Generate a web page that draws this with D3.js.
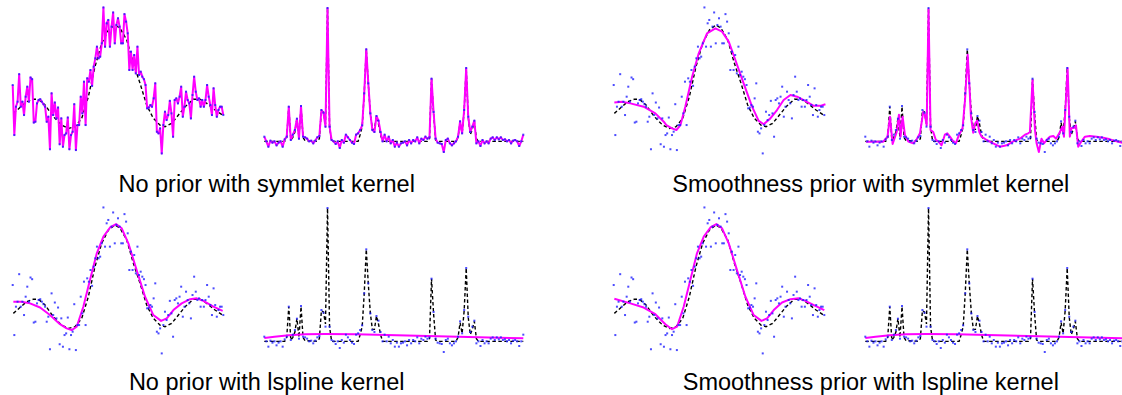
<!DOCTYPE html>
<html>
<head>
<meta charset="utf-8">
<script src="https://cdn.jsdelivr.net/npm/d3@7"></script>
<style>
  body { margin: 0; background: #fff; }
  svg { display: block; }
  .caption { font-family: "Liberation Sans", Arial, sans-serif; font-size: 23.5px; fill: #000; }
</style>
</head>
<body>
<svg id="chart" width="1122" height="395"></svg>
<script>
// ---- left signal (sinc-like), noisy samples, one per grid index ----
const leftData = [26, -34, 0, 6, 39, 0, 6, -10, 12, 24, 6, 35, 33, -19, -18, 4, 8, 9, 6, 3,
  0, -18, -12, -51, 16, -10, 5, -14, -1, -45, -14, -48, -34, -32, -13, -51, -34, -30, 3, -52,
  -22, -22, 12, -8, 30, -22, 34, 30, 44, 25, 48, 58, 72, 58, 60, 76, 119, 72, 100, 104,
  72, 96, 113, 76, 98, 106, 96, 76, 76, 111, 102, 88, 44, 66, 44, 62, 40, 72, 38, 42,
  36, 33, 26, -2, -1, 2, 0, 10, 28, -30, -32, -26, -56, -22, -6, -16, -10, 7, -8, -36,
  8, 10, 4, 12, 24, -12, 0, 18, 8, 4, -14, 14, 36, 18, 8, 10, 0, 8, 0, 8,
  26, 12, 2, -10, 22, 2, -12, -4, 0, 0, -10];

// true left function [index, value]
const leftTruth = [[0.4, -8], [4.5, -1], [8.6, 6], [12.8, 9], [15.8, 9], [20, 2], [25.1, -12], [30.2, -22],
  [34.4, -26], [38.5, -24], [42.6, -14], [46.7, 12], [50.8, 48], [54.9, 76], [59.1, 92], [63.2, 98],
  [66.3, 94], [70.4, 80], [74.5, 52], [78.6, 28], [82.7, 2], [86.8, -14], [90.9, -22], [94, -24],
  [98.1, -20], [102.3, -10], [106.4, 0], [111.5, 9], [115.6, 9], [119.8, 4], [124.9, -4], [129.6, -10]];

// estimates of the left function
const leftSmoothSym = [[0.4, 5], [5.1, 6], [10.3, 4], [18.5, 0], [25.7, -8], [30.9, -18], [32.5, -22],
  [36, -26], [38.7, -28], [41.2, -22], [44.2, 0], [48.4, 36], [52.5, 64], [57.6, 88], [62.8, 94],
  [66.9, 90], [71, 78], [75.1, 56], [80.2, 28], [85.4, 0], [89.5, -17], [92.6, -21], [96.7, -14],
  [100.8, -4], [104.9, 8], [109.1, 14], [113.2, 12], [117.3, 8], [123.5, 1], [127.6, 1], [130.7, 3]];

const leftLspline = [[0.4, 6], [5.6, 6], [10.7, 4], [16.9, -1], [23, -10], [29.2, -21], [33.3, -26],
  [36.4, -28], [39.5, -24], [43.6, 0], [47.7, 32], [51.9, 64], [56, 84], [60.1, 95], [63.8, 99],
  [67.3, 94], [71.4, 76], [76.5, 44], [81.7, 12], [86.8, -10], [91.6, -17], [95.1, -14], [99.2, -4],
  [104.3, 4], [109.5, 9], [113.6, 10], [117.7, 7], [123.9, 0], [129.6, -5]];

const leftSmoothLspline = [[0.4, 9.6], [10.3, 4], [18.5, -1], [25.7, -9], [31.9, -21], [36, -27],
  [39.1, -24], [43.2, 0], [47.3, 32], [51.4, 64], [55.6, 84], [59.7, 95], [63.4, 99], [66.9, 94],
  [71, 76], [76.1, 44], [81.3, 12], [86.4, -10], [91.2, -17], [94.7, -14], [98.8, -4], [103.9, 5],
  [109.1, 9], [114.2, 10], [118.3, 7], [124.5, 1], [130, -4]];

// ---- right signal (bumps), noisy samples ----
const rightData = [2.5, -1, -5, -0.5, -2, -1, -4, -2, -1, -5, 0.5, 2.5, 25, 0, 4, 7.5, 16, 1, 25.5, 2.5,
  2, 1, -1, -0.5, -2.5, -0.5, 2, 3, 22.5, 20.5, 10, 99, 10, 0, -1, -3, -1, -6, 0, -2,
  4, 2, 0, -2, -3, 4, 5, 7.5, 11, 35, 68, 42.5, 20, 7.5, 6, 18, 14.5, 6, -1, 4,
  -1, 2.5, -2.5, 0, -5, -2, -5, -2.5, -2, -1, -4, 0, -2.5, 0, -1, 2, -2.5, 1, 0, 2.5,
  1, 2, 46, 21, 1, -2, -2.5, -3, -9, 0, 1, -2.5, -4, -2.5, -1, 2.5, 14, 5, 22.5, 54,
  17.5, 6, 10, 14.5, -2.5, -1, -4.5, 0, -2.5, -1, -2.5, 1, 2, 0, 2, 0.5, 2, 0, 0.5, -1,
  0, -2.5, -0.5, 0, -1, -4.5, -1, 4];

const rightTruth = [[0, -1], [10, -1], [11, 2], [12, 25], [13, 0], [14, 2], [15, 6], [16, 16], [17, 2],
  [18, 25], [19, 2], [20, -0.5], [26, -1], [27, 1], [28, 22], [29, 21], [30, 12], [31, 99], [32, 10],
  [33, -1], [46, -1], [47, 4], [48, 10], [49, 35], [50, 68], [51, 42], [52, 20], [53, 8], [54, 8],
  [55, 18], [56, 12], [57, 4], [58, -1], [80, -1], [81, 1], [82, 46], [83, 20], [84, 0], [85, -1],
  [94, -1], [95, 2], [96, 13], [97, 5], [98, 22], [99, 54], [100, 17], [101, 4], [102, 8], [103, 14],
  [104, 1], [105, -1], [127, -1]];

const rightSmoothSym = [[0.3, -1.25], [8.8, -1.25], [10.9, 2.5], [12.1, 17.5], [13.4, -3], [15.4, 6],
  [16.5, 19], [17.3, 2.5], [18.3, 17.5], [19.4, 4], [21.1, -1.25], [23.5, -2.5], [25.2, 0.5], [26.8, 5],
  [28.4, 21], [29.2, 19], [30.1, 11], [31, 98], [32, 7.5], [33.3, 6], [34.6, 0], [35.8, -1], [37.4, -4],
  [39, 4], [40.2, 5], [41.5, 2.5], [43.1, -1], [44.4, -2.5], [45.6, 2.5], [47.7, 9], [48.9, 30],
  [50.2, 64], [51, 42.5], [51.8, 17.5], [52.9, 5.5], [53.9, 12.5], [54.9, 14.5], [55.9, 6], [57, 2.5],
  [59.5, 0], [62.7, -2.5], [66, -5], [69.3, -4], [72.5, -1], [75.8, 1], [78.3, 4], [79.9, 5], [80.7, 6],
  [82, 45], [83.2, 7.5], [84, -2.5], [85.1, -9], [86.4, 1], [87.6, -2.5], [88.9, 0], [90.5, 2.5],
  [92.2, 3], [93.5, 1], [95.1, 5], [96.6, 10], [97.4, 2.5], [99.2, 54], [100.3, 2.5], [101.1, 9],
  [102.3, 9], [103.3, 11], [104.4, -5], [106, -1], [107.7, 2.5], [110.1, 3], [113.4, 2.5], [116.7, 1.75],
  [120, 0.5], [123.2, -1], [127, -2.5]];

const rightLspline = [[0, 1.5], [5, 2.5], [12, 3.5], [20, 4.3], [30, 4.5], [45, 4.3], [60, 3.8],
  [80, 3], [100, 2.3], [127, 1.3]];

const captions = ['No prior with symmlet kernel', 'Smoothness prior with symmlet kernel',
  'No prior with lspline kernel', 'Smoothness prior with lspline kernel'];

const asPairs = arr => arr.map((v, i) => [i, v]);

const panels = [
  { col: 0, row: 0, kind: 'left', est: asPairs(leftData) },
  { col: 0, row: 0, kind: 'right', est: asPairs(rightData) },
  { col: 1, row: 0, kind: 'left', est: leftSmoothSym },
  { col: 1, row: 0, kind: 'right', est: rightSmoothSym },
  { col: 0, row: 1, kind: 'left', est: leftLspline },
  { col: 0, row: 1, kind: 'right', est: rightLspline },
  { col: 1, row: 1, kind: 'left', est: leftSmoothLspline },
  { col: 1, row: 1, kind: 'right', est: rightLspline },
];

const COL_DX = 601, ROW_DY = 200;
const svg = d3.select('#chart');

panels.forEach(p => {
  const dx = p.col * COL_DX, dy = p.row * ROW_DY;
  const left = p.kind === 'left';
  const data = left ? leftData : rightData;
  const truth = left ? leftTruth : rightTruth;

  const x = d3.scaleLinear()
    .domain(left ? [0, 130] : [0, 127])
    .range(left ? [12.7 + dx, 223.3 + dx] : [264.3 + dx, 523.3 + dx]);
  const y = d3.scaleLinear()
    .domain([0, 100])
    .range(left ? [106.7 + dy, 23.3 + dy] : [140 + dy, 6.7 + dy]);

  const line = d3.line().x(d => x(d[0])).y(d => y(d[1]));
  const g = svg.append('g');

  g.append('path')
    .attr('d', line(truth))
    .attr('fill', 'none')
    .attr('stroke', '#000')
    .attr('stroke-width', 1.4)
    .attr('stroke-dasharray', '3.5,2.5');

  g.append('path')
    .attr('d', line(p.est))
    .attr('fill', 'none')
    .attr('stroke', '#ff00ff')
    .attr('stroke-width', 2)
    .attr('stroke-linejoin', 'round');

  g.selectAll('rect.pt')
    .data(data)
    .enter()
    .append('rect')
    .attr('class', 'pt')
    .attr('x', (d, i) => x(i) - 1)
    .attr('y', d => y(d) - 1)
    .attr('width', 2)
    .attr('height', 2)
    .attr('fill', '#1f1fff')
    .attr('opacity', 0.8);
});

// captions
svg.selectAll('text.caption')
  .data(captions)
  .enter()
  .append('text')
  .attr('class', 'caption')
  .attr('text-anchor', 'middle')
  .attr('x', (d, i) => (i % 2 === 0 ? 266.7 : 870.8))
  .attr('y', (d, i) => (i < 2 ? 192 : 390))
  .text(d => d);
</script>
</body>
</html>
